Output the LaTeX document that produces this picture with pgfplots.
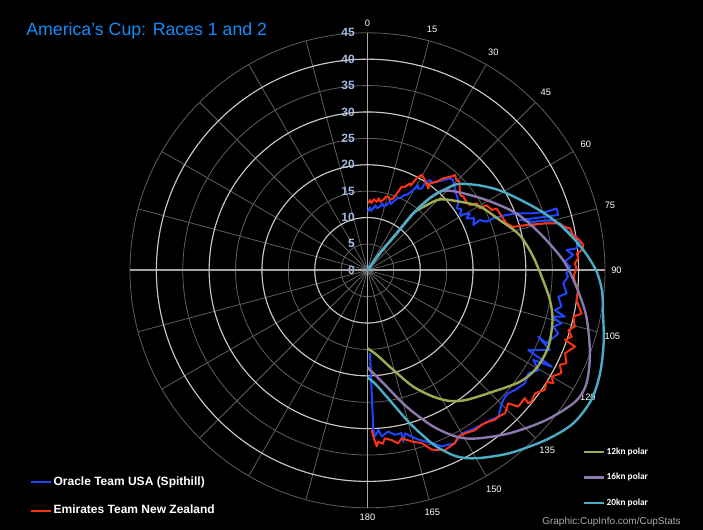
\documentclass[border=0pt]{standalone}
\usepackage{pgfplots}
\pgfplotsset{compat=1.18}
\usepgfplotslibrary{polar}
\usepackage{fontspec}
\setmainfont{Liberation Sans}
\newfontfamily\carlito{Carlito}

\definecolor{oracle}{RGB}{30,70,255}
\definecolor{etnz}{RGB}{250,52,18}
\definecolor{pol12}{RGB}{155,172,82}
\definecolor{pol16}{RGB}{140,120,172}
\definecolor{pol20}{RGB}{75,172,198}
\definecolor{griddim}{RGB}{95,95,95}
\definecolor{gridlight}{RGB}{200,200,200}
\definecolor{axisgray}{RGB}{165,165,165}
\definecolor{ticklab}{RGB}{160,185,225}
\definecolor{titleblue}{RGB}{20,140,250}
\definecolor{srcgray}{RGB}{170,170,170}

% angle 0 at the top, clockwise: polar x = 450 - heading
\pgfplotsset{cupaxis/.style={
  at={(0pt,0pt)}, anchor=center,
  scale only axis, width=356.25pt, height=356.25pt,
  xmin=90, xmax=450, ymin=0, ymax=45, clip=false,
  x filter/.expression={450-x},
  legend image code/.code={\draw[##1] (0pt,0pt) -- (15pt,0pt);},
  legend cell align=left,
}}

\begin{document}
\begin{tikzpicture}
\path[use as bounding box, fill=black] (-275.625pt,-194.775pt) rectangle (251.625pt,202.725pt);

\begin{polaraxis}[cupaxis,
  xtick={90,105,...,435},
  xticklabels={0,,,,,,,,,,,,180,165,150,135,120,105,90,75,60,45,30,15},
  ytick={0,5,...,45},
  extra y ticks={10,20,30,40}, extra y tick labels={},
  extra y tick style={major grid style={draw=gridlight,line width=0.8pt}},
  extra x ticks={90,180,270,360}, extra x tick labels={},
  extra x tick style={major grid style={draw=axisgray,line width=1.2pt}},
  grid=major,
  major grid style={draw=griddim,line width=0.6pt},
  axis line style={draw=none},
  major tick length=0pt,
  /pgf/number format/assume math mode=true,
  xticklabel style={font=\fontsize{7}{8}\selectfont, text=white, inner sep=4.5pt},
  yticklabel style={font=\fontsize{9}{10}\selectfont\bfseries, text=ticklab, anchor=east, xshift=-6pt},
  legend style={at={(-0.2105,0.0244)}, anchor=west, draw=none, fill=none,
    text=white, font=\fontsize{9}{10}\selectfont\bfseries, inner sep=0pt,
    row sep=11.5pt, nodes={inner sep=1pt}},
]

\addplot[oracle, line width=1.5pt, line join=round] coordinates {
(0.5,11.1) (2,11.9) (3.5,11.3) (5.3,11.8) (7,12.4) (8.5,11.9) (11.1,12.3)
(12.5,13.0) (14,12.5) (16.4,12.9) (18,13.8) (19.5,13.3) (20.6,13.9) (22.5,14.8)
(24.3,15.0) (26,15.9) (27.5,16.1) (29,17.0) (29.7,17.5) (30.8,18.8) (32,18.2)
(33.5,18.6) (33.5,19.8) (34.7,20.8) (36.5,20.6) (38.0,21.3) (40.0,22.3) (41.9,23.4)
(43.5,23.6) (45,23.1) (49.8,22.1) (53.0,21.6) (55.2,20.6) (57,21.2) (59.1,20.4)
(60.9,22.2) (62.3,21.2) (64,22.5) (66.8,21.8) (65.9,23.3) (67.8,24.4) (67.5,25.8)
(68.0,27.1) (68.3,28.4) (69.1,30.2) (71.0,33.2) (71.9,35.7) (71.9,37.7) (73.8,37.6)
(73.3,35.4) (72.6,32.9) (71.7,30.4) (73.7,32.7) (74.6,35.9) (76.3,37.5) (77.6,38.3)
(79.1,38.7) (80.9,40.1) (82.8,40.6) (84.0,39.8) (84.2,37.9) (85.7,39.1) (87.5,37.4)
(89.0,38.4) (90.9,37.7) (91.8,38.0) (93.8,37.2) (96.6,38.0) (97.9,36.5) (100.6,37.4)
(102.0,36.3) (103.2,38.4) (104.1,36.0) (105.3,38.1) (106.9,36.8) (108.3,38.1) (112.2,36.6)
(111.2,34.7) (113.6,37.7) (116.4,34.0) (117.6,39.4) (118.4,35.7) (120.3,37.5) (122.6,36.2)
(125.7,36.7) (129.1,36.0) (131.1,35.4) (132.6,35.4) (134.7,35.8) (136.5,36.5) (138.2,37.2)
(140.3,36.8) (142.5,36.5) (144.7,36.3) (146.9,36.1) (150.0,35.7) (153.2,36.7) (157.2,36.2)
(159.6,34.9) (161.5,34.2) (164.2,33.1) (167.0,31.7) (168.2,33.2) (168.2,31.5) (170.5,31.6)
(172.7,30.8) (175.1,31.6) (176.1,30.3) (177.4,31.5) (177.9,30.3) (178.3,15.7)
};
\addlegendentry{Oracle Team USA (Spithill)}

\addplot[etnz, line width=1.5pt, line join=round] coordinates {
(0.7,12.7) (2,13.3) (3.5,12.8) (5,13.5) (7.6,13.1) (9,13.8) (10.5,13.2) (12.7,13.7)
(14,14.4) (15.8,14.5) (17.5,14.0) (19.7,14.5) (21.4,16.0) (22.2,17.1) (24,17.3)
(26.0,18.3) (27,18.0) (28.1,19.8) (29.6,20.8) (32.5,20.3) (36.6,19.3) (35.7,20.3)
(38.0,21.3) (39.5,22.6) (41.4,23.6) (42.6,24.5) (44.6,24.0) (46.0,24.2) (50.9,22.6)
(52.5,22.9) (55.3,22.8) (57.5,23.0) (58.5,24.3) (61.1,24.3) (61.3,25.7) (64.1,26.2)
(64.4,27.1) (66.7,27.3) (69.0,27.5) (71.3,27.8) (73.4,28.8) (74.1,31.3) (75.3,35.1)
(76.3,37.5) (77.4,38.0) (78.3,39.2) (80.3,39.5) (81.9,40.6) (83.3,41.2) (84.6,40.8)
(85.4,39.8) (86.7,40.0) (88.1,39.3) (89.5,39.6) (91.5,39.1) (93.6,39.4) (95.3,40.1)
(98.1,40.0) (101.4,41.4) (102.7,40.0) (105.2,40.7) (106.6,39.7) (108.0,40.7) (109.4,39.7)
(110.2,41.9) (112.8,40.6) (115.0,41.6) (116.2,40.6) (117.9,41.6) (120.0,40.3) (121.3,41.2)
(121.9,40.0) (124.0,40.5) (126.3,39.4) (128.7,39.8) (129.6,39.5) (129.1,38.4) (132.1,38.5)
(133.4,36.7) (136.1,37.6) (138.2,37.2) (139.6,37.2) (141.4,36.7) (143.6,36.4) (146.1,36.5)
(149.1,36.0) (151.4,35.9) (153.2,36.7) (156.7,37.1) (160.3,36.1) (162.6,34.3) (165.5,33.5)
(168.5,32.5) (170,33.3) (171.9,32.5) (174.1,32.0) (175,33.0) (176.4,32.5) (177.0,33.4)
(178.0,31.5) (178.5,30.3)
};
\addlegendentry{Emirates Team New Zealand}
\end{polaraxis}

\begin{polaraxis}[cupaxis, hide axis,
  legend style={at={(0.953,0.064)}, anchor=west, draw=none, fill=none,
    text=white, font=\carlito\fontsize{7}{8}\selectfont\bfseries, inner sep=0pt,
    row sep=10.8pt, nodes={inner sep=1pt}},
]
\addplot[pol12, line width=1.8pt, smooth] coordinates {
(36,0) (36,4.0) (38.3,8.9) (38.8,13.8) (41.8,16.3) (45.6,19.2) (53.4,21.8) (60.5,24.5)
(69.2,26.8) (77.0,29.6) (85.3,31.5) (93.2,33.3) (99.2,35.0) (105.0,36.3) (112.9,37.2)
(120.1,37.0) (126.1,35.8) (134.0,33.1) (142.6,30.9) (147.7,29.3) (152.5,27.0) (158.5,23.7)
(165.5,19.5) (173.8,16.1) (180,14.8)
};
\addlegendentry{12kn polar}
\addplot[pol16, line width=1.8pt, smooth] coordinates {
(36,0) (36,4.0) (38.3,8.9) (38.8,13.8) (40,16.5) (42.7,20.3) (48.6,22.5) (59.5,26.2)
(69.1,30.2) (77.9,33.4) (87.0,37.1) (94.5,39.7) (102.0,42.4) (110.5,45.0) (117.3,46.7)
(122.2,46.6) (129.9,44.2) (138.8,41.0) (147.0,38.0) (151.8,35.8) (157.2,32.1) (164.0,26.9)
(172.0,21.6) (180,18.4)
};
\addlegendentry{16kn polar}
\addplot[pol20, line width=1.8pt, smooth] coordinates {
(36,0) (36,4.0) (38.3,8.9) (38.8,13.8) (40.8,18.1) (44.6,22.2) (47,24.0) (53,26.7)
(59.9,29.7) (69.9,34.1) (76.8,37.5) (84,40.8) (90,43.3) (95,44.6) (100,45.3) (107,46.8)
(113.9,48.2) (120,49.0) (126.6,48.6) (133.4,46.7) (142.1,43.9) (149.8,41.2) (154.4,39.1)
(158.6,35.9) (162.1,32.4) (165.3,29.3) (171.4,24.2) (176,21.6) (180,20.3)
};
\addlegendentry{20kn polar}
\end{polaraxis}

\node[anchor=base west, text=titleblue, font=\fontsize{13.3}{15}\selectfont, inner sep=0pt]
  at (-256.1pt,176.1pt) {America’s Cup: Races 1 and 2};
\node[anchor=base east, text=srcgray, font=\fontsize{7.5}{9}\selectfont, inner sep=0pt]
  at (235.1pt,-190.3pt) {Graphic:CupInfo.com/CupStats};
\end{tikzpicture}
\end{document}
